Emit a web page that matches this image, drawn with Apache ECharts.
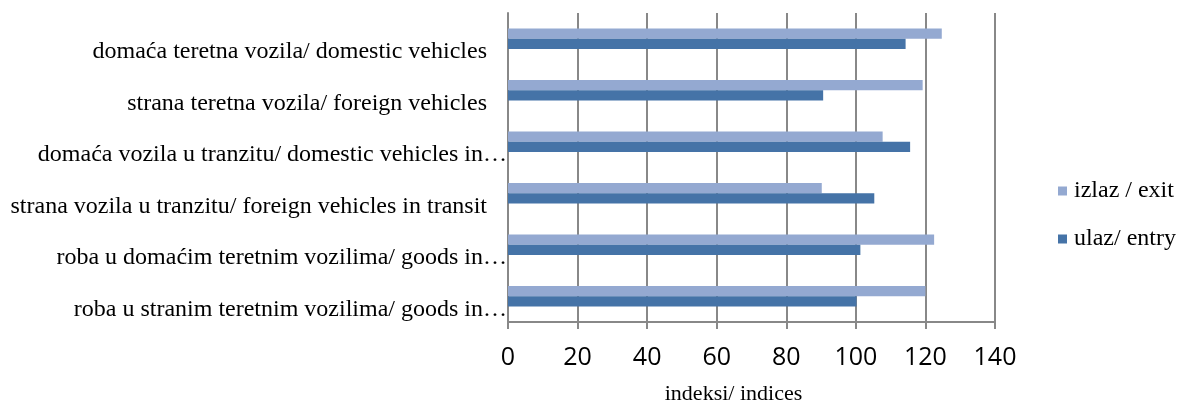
<!DOCTYPE html>
<html><head><meta charset="utf-8">
<script src="https://cdn.jsdelivr.net/npm/echarts@6/dist/echarts.min.js"></script>
<style>html,body{margin:0;padding:0;background:#fff}#c{width:1177px;height:403px}</style>
</head><body><div id="c"></div>
<script>
// categories listed top to bottom as in the picture
const categories = [
  'domaća teretna vozila/ domestic vehicles',
  'strana teretna vozila/ foreign vehicles',
  'domaća vozila u tranzitu/ domestic vehicles in…',
  'strana vozila u tranzitu/ foreign vehicles in transit',
  'roba u domaćim teretnim vozilima/ goods in…',
  'roba u stranim teretnim vozilima/ goods in…'
];
const exitValues  = [124.7, 119.2, 107.7, 90.2, 122.5, 120.0];
const entryValues = [114.3, 90.6, 115.6, 105.3, 101.3, 100.2];
const xTicks = [0, 20, 40, 60, 80, 100, 120, 140];
const exitName = 'izlaz / exit';
const entryName = 'ulaz/ entry';
const axisName = 'indeksi/ indices';

const serif = '"Liberation Serif", "Times New Roman", serif';
const chart = echarts.init(document.getElementById('c'));
chart.setOption({
  animation: false,
  grid: {left: 508, right: 182, top: 13, bottom: 81, containLabel: false, outerBoundsMode: 'none'},
  legend: {
    orient: 'vertical', left: 1053, top: 174, itemWidth: 9, itemHeight: 9, itemGap: 24,
    icon: 'rect',
    data: [exitName, entryName],
    textStyle: {fontFamily: serif, fontSize: 24, color: '#000', padding: [0,0,0,2]}
  },
  xAxis: {
    type: 'value', min: xTicks[0], max: xTicks[xTicks.length-1], interval: 20,
    name: axisName, nameLocation: 'middle', nameGap: 61,
    nameTextStyle: {fontFamily: serif, fontSize: 22, color: '#000', padding: [0, 36, 0, 0]},
    axisLine: {show: true, lineStyle: {color: '#888', width: 2}},
    axisTick: {show: true, length: 7, lineStyle: {color: '#888', width: 2}},
    axisLabel: {fontFamily: '"Open Sans", sans-serif', fontSize: 25, color: '#000', margin: 23},
    splitLine: {show: true, lineStyle: {color: '#888', width: 2}}
  },
  yAxis: {
    type: 'category', inverse: true, data: categories,
    axisLine: {show: true, lineStyle: {color: '#888', width: 2}},
    axisTick: {show: false},
    axisLabel: {
      fontFamily: serif, fontSize: 24, color: '#000', margin: 1, padding: [26, 0, 0, 0],
      formatter: v => v.endsWith('…') ? v : '{a|' + v + '}',
      rich: {a: {fontFamily: serif, fontSize: 24, color: '#000', padding: [0, 20, 0, 0]}}
    }
  },
  series: [
    {name: exitName, type: 'bar', data: exitValues, barGap: '0%', barCategoryGap: '60%',
     itemStyle: {color: '#94A9D1'}},
    {name: entryName, type: 'bar', data: entryValues, barGap: '0%', barCategoryGap: '60%',
     itemStyle: {color: '#4573A7'}}
  ]
});
</script></body></html>
